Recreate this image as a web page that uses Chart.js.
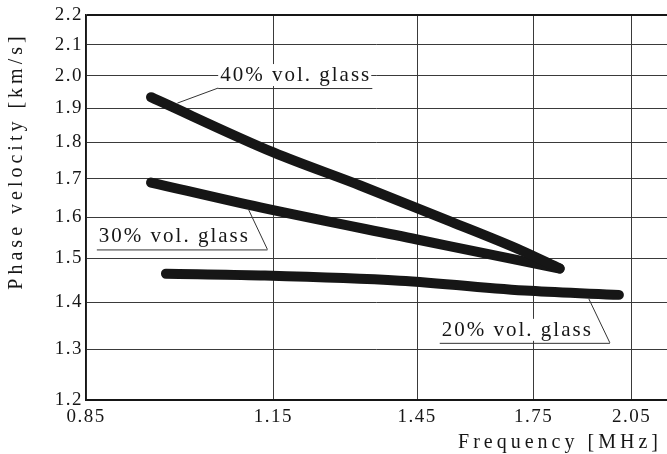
<!DOCTYPE html>
<html>
<head>
<meta charset="utf-8">
<script src="https://cdn.jsdelivr.net/npm/chart.js@4/dist/chart.umd.min.js"></script>
<style>
  html, body { margin: 0; padding: 0; background: #ffffff; }
  #wrap { width: 667px; height: 454px; }
</style>
</head>
<body>
<div id="wrap"><canvas id="chart" width="667" height="454"></canvas></div>
<script>
// Axis ticks
const frequencyTicks = [0.85, 1.15, 1.45, 1.75, 2.05];
const velocityTicks = [1.2, 1.3, 1.4, 1.5, 1.6, 1.7, 1.8, 1.9, 2.0, 2.1, 2.2];

// Phase velocity [km/s] vs frequency [MHz]
const glass40Freq = [0.944, 1.15, 1.323, 1.531, 1.714, 1.825];
const glass40Vel  = [1.933, 1.772, 1.682, 1.589, 1.519, 1.476];

const glass30Freq = [0.944, 1.126, 1.45, 1.71, 1.825];
const glass30Vel  = [1.690, 1.625, 1.545, 1.495, 1.476];

const glass20Freq = [0.967, 1.126, 1.41, 1.74, 2.008];
const glass20Vel  = [1.464, 1.460, 1.448, 1.425, 1.416];

// Callout labels: point on the curve, elbow of the leader, far end of the underline
const calloutText  = ['40% vol. glass', '30% vol. glass', '20% vol. glass'];
const calloutTip   = [[0.985, 1.915], [1.104, 1.622], [1.913, 1.407]];
const calloutElbow = [[1.052, 1.961], [1.139, 1.521], [1.979, 1.313]];
const calloutEndX  = [1.349, 0.865, 1.504];

const pairs = (xs, ys) => xs.map((x, i) => ({ x: x, y: ys[i] }));

const SERIF = '"Liberation Serif", "Times New Roman", serif';
const INK = '#161616';

const lineStyle = {
  borderColor: INK,
  borderWidth: 10,
  borderCapStyle: 'round',
  borderJoinStyle: 'round',
  pointRadius: 0,
  cubicInterpolationMode: 'monotone',
  fill: false
};

const spacingPlugin = {
  id: 'spacing',
  beforeDraw(chart) {
    chart.ctx.letterSpacing = '1.5px';
  }
};

const calloutPlugin = {
  id: 'callouts',
  afterDatasetsDraw(chart) {
    const ctx = chart.ctx;
    const xs = chart.scales.x, ys = chart.scales.y;
    ctx.save();
    ctx.letterSpacing = '2px';
    ctx.font = '21px ' + SERIF;
    ctx.textBaseline = 'alphabetic';
    ctx.textAlign = 'left';
    calloutText.forEach((txt, i) => {
      const tx = xs.getPixelForValue(calloutTip[i][0]);
      const ty = ys.getPixelForValue(calloutTip[i][1]);
      const ex = xs.getPixelForValue(calloutElbow[i][0]);
      const ey = ys.getPixelForValue(calloutElbow[i][1]);
      const fx = xs.getPixelForValue(calloutEndX[i]);
      const left = Math.min(ex, fx);
      const right = Math.max(ex, fx);
      const w = ctx.measureText(txt).width;
      const textLeft = left + 2;
      const base = ey - 7;
      // white box behind the text so the grid stops at the label
      ctx.fillStyle = '#ffffff';
      ctx.fillRect(textLeft - 2, base - 17, w + 2, 22);
      ctx.fillStyle = INK;
      ctx.fillText(txt, textLeft, base);
      ctx.strokeStyle = '#333333';
      ctx.lineWidth = 1;
      ctx.beginPath();
      ctx.moveTo(left, ey + 0.5);
      ctx.lineTo(right, ey + 0.5);
      ctx.moveTo(ex, ey);
      ctx.lineTo(tx, ty);
      ctx.stroke();
    });
    ctx.restore();
  }
};

const titlePlugin = {
  id: 'axisTitles',
  afterDraw(chart) {
    const ctx = chart.ctx;
    const area = chart.chartArea;
    ctx.save();
    ctx.letterSpacing = '4px';
    ctx.font = '20px ' + SERIF;
    ctx.fillStyle = INK;
    ctx.textAlign = 'center';
    ctx.textBaseline = 'middle';
    ctx.fillText('Frequency [MHz]', 560, area.bottom + 43);
    ctx.translate(17, 161);
    ctx.rotate(-Math.PI / 2);
    ctx.fillText('Phase velocity [km/s]', 0, 0);
    ctx.restore();
  }
};

new Chart(document.getElementById('chart'), {
  type: 'line',
  data: {
    datasets: [
      Object.assign({ label: '40% vol. glass', data: pairs(glass40Freq, glass40Vel) }, lineStyle),
      Object.assign({ label: '30% vol. glass', data: pairs(glass30Freq, glass30Vel) }, lineStyle),
      Object.assign({ label: '20% vol. glass', data: pairs(glass20Freq, glass20Vel) }, lineStyle)
    ]
  },
  options: {
    responsive: false,
    animation: false,
    devicePixelRatio: 1,
    layout: { padding: { top: 15, right: 0, left: 0, bottom: 0 } },
    plugins: {
      legend: { display: false },
      tooltip: { enabled: false }
    },
    scales: {
      x: {
        type: 'logarithmic',
        min: 0.85,
        max: 2.17,
        afterBuildTicks: s => { s.ticks = frequencyTicks.map(v => ({ value: v })); },
        afterFit: s => { s.height = 54; },
        ticks: {
          autoSkip: false,
          maxRotation: 0,
          padding: 6,
          color: INK,
          font: { family: SERIF, size: 19 },
          callback: v => Number(v).toFixed(2)
        },
        grid: { color: '#3a3a3a', lineWidth: 1, drawTicks: false },
        border: { color: INK, width: 2 }
      },
      y: {
        type: 'logarithmic',
        min: 1.2,
        max: 2.2,
        afterBuildTicks: s => { s.ticks = velocityTicks.map(v => ({ value: v })); },
        afterFit: s => { s.width = 86; },
        ticks: {
          padding: 3,
          color: INK,
          font: { family: SERIF, size: 19 },
          callback: v => Number(v).toFixed(1)
        },
        grid: {
          color: c => (c.tick && c.tick.value === 2.2) ? INK : '#3a3a3a',
          lineWidth: c => (c.tick && c.tick.value === 2.2) ? 2 : 1,
          drawTicks: false
        },
        border: { color: INK, width: 1.5 }
      }
    }
  },
  plugins: [spacingPlugin, calloutPlugin, titlePlugin]
});
</script>
</body>
</html>
